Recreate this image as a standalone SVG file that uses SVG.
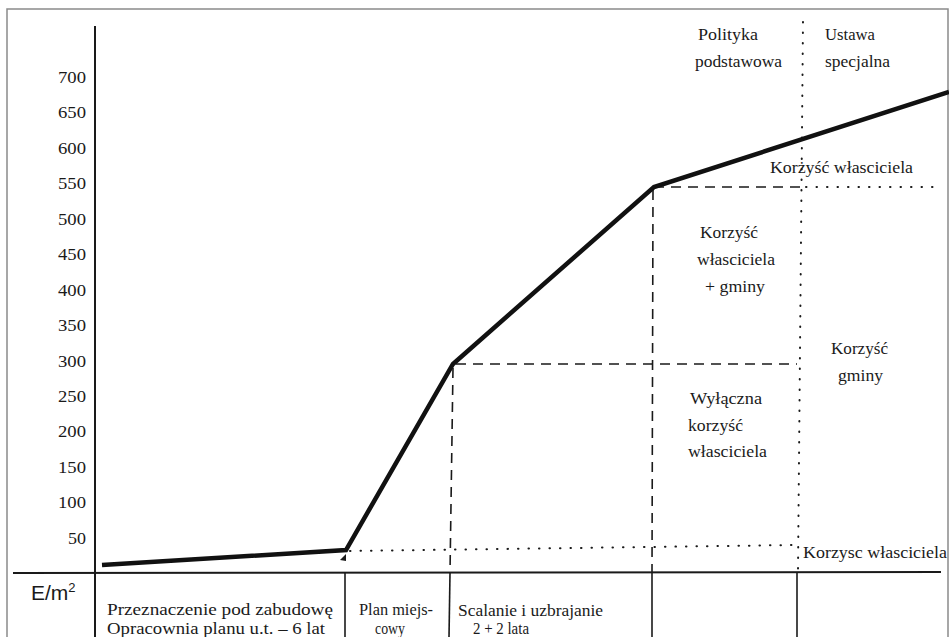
<svg xmlns="http://www.w3.org/2000/svg" width="949" height="637" viewBox="0 0 949 637">
<style>
.t{font-family:"Liberation Serif",serif;font-size:16px;fill:#1a1a1a}
.ax{stroke:#1a1a1a;stroke-width:2;fill:none}
.sol{stroke:#1a1a1a;stroke-width:1.6;fill:none}
.dash{stroke:#1a1a1a;stroke-width:1.6;fill:none;stroke-dasharray:10 7}
.dot{stroke:#1a1a1a;stroke-width:2;fill:none;stroke-dasharray:0.5 10;stroke-linecap:round}
.curve{stroke:#111;stroke-width:4.5;fill:none;stroke-linejoin:miter}
</style>
<rect x="0" y="0" width="949" height="637" fill="#fff"/>
<rect x="7" y="9" width="941" height="640" fill="none" stroke="#8a8a8a" stroke-width="1.5"/>

<g id="axes">
<line class="ax" x1="95" y1="26" x2="95" y2="637"/>
<line class="ax" x1="13" y1="573" x2="941" y2="572"/>
</g>

<g id="y-labels" class="t" font-size="17" text-anchor="end">
<text x="86" y="83" textLength="28" lengthAdjust="spacingAndGlyphs">700</text>
<text x="86" y="118" textLength="28" lengthAdjust="spacingAndGlyphs">650</text>
<text x="86" y="154" textLength="28" lengthAdjust="spacingAndGlyphs">600</text>
<text x="86" y="189" textLength="28" lengthAdjust="spacingAndGlyphs">550</text>
<text x="86" y="225" textLength="28" lengthAdjust="spacingAndGlyphs">500</text>
<text x="86" y="260" textLength="28" lengthAdjust="spacingAndGlyphs">450</text>
<text x="86" y="296" textLength="28" lengthAdjust="spacingAndGlyphs">400</text>
<text x="86" y="331" textLength="28" lengthAdjust="spacingAndGlyphs">350</text>
<text x="86" y="367" textLength="28" lengthAdjust="spacingAndGlyphs">300</text>
<text x="86" y="402" textLength="28" lengthAdjust="spacingAndGlyphs">250</text>
<text x="86" y="437" textLength="28" lengthAdjust="spacingAndGlyphs">200</text>
<text x="86" y="473" textLength="28" lengthAdjust="spacingAndGlyphs">150</text>
<text x="86" y="508" textLength="28" lengthAdjust="spacingAndGlyphs">100</text>
<text x="86" y="544" textLength="18" lengthAdjust="spacingAndGlyphs">50</text>
</g>

<g id="unit-label">
<text x="31" y="600" font-family="Liberation Sans, sans-serif" font-size="21" fill="#1a1a1a">E/m<tspan dy="-8" font-size="13">2</tspan></text>
</g>

<g id="connectors">
<line class="dot" x1="803" y1="22" x2="798" y2="570"/>
<line class="dash" x1="654" y1="187" x2="800" y2="187"/>
<line class="dot" x1="806" y1="187" x2="935" y2="187"/>
<line class="dash" x1="653" y1="190" x2="652" y2="573"/>
<line class="dash" x1="456" y1="364" x2="797" y2="364"/>
<line class="dash" x1="453" y1="368" x2="450" y2="573"/>
<line class="dot" x1="350" y1="551" x2="796" y2="545"/>
<line class="sol" x1="345" y1="573" x2="345" y2="637"/>
<line class="sol" x1="450" y1="573" x2="449" y2="637"/>
<line class="sol" x1="652" y1="573" x2="652" y2="637"/>
<line class="sol" x1="797" y1="573" x2="797" y2="637"/>
<polygon points="340,560 346,554 346,561" fill="#1a1a1a"/>
</g>

<g id="value-curve">
<polyline class="curve" points="102,565 346,550 453,364 654,187 949,92"/>
</g>

<g id="top-labels" class="t">
<text x="698" y="40" textLength="60" lengthAdjust="spacingAndGlyphs">Polityka</text>
<text x="695" y="67" textLength="87" lengthAdjust="spacingAndGlyphs">podstawowa</text>
<text x="825" y="40" textLength="50" lengthAdjust="spacingAndGlyphs">Ustawa</text>
<text x="825" y="67" textLength="65" lengthAdjust="spacingAndGlyphs">specjalna</text>
</g>

<g id="region-labels" class="t">
<text x="770" y="173" textLength="143" lengthAdjust="spacingAndGlyphs">Korżyść własciciela</text>
<text x="700" y="238" textLength="58" lengthAdjust="spacingAndGlyphs">Korzyść</text>
<text x="697" y="265" textLength="78" lengthAdjust="spacingAndGlyphs">własciciela</text>
<text x="705" y="292" textLength="60" lengthAdjust="spacingAndGlyphs">+ gminy</text>
<text x="831" y="354" textLength="57" lengthAdjust="spacingAndGlyphs">Korzyść</text>
<text x="838" y="381" textLength="45" lengthAdjust="spacingAndGlyphs">gminy</text>
<text x="690" y="404" textLength="72" lengthAdjust="spacingAndGlyphs">Wyłączna</text>
<text x="688" y="431" textLength="55" lengthAdjust="spacingAndGlyphs">korzyść</text>
<text x="688" y="457" textLength="79" lengthAdjust="spacingAndGlyphs">własciciela</text>
<text x="803" y="558" textLength="144" lengthAdjust="spacingAndGlyphs">Korzysc własciciela</text>
</g>

<g id="phase-labels" class="t">
<text x="107" y="615" textLength="226" lengthAdjust="spacingAndGlyphs">Przeznaczenie  pod zabudowę</text>
<text x="107" y="634" textLength="218" lengthAdjust="spacingAndGlyphs">Opracownia  planu u.t. – 6 lat</text>
<text x="359" y="615" textLength="74" lengthAdjust="spacingAndGlyphs">Plan miejs-</text>
<text x="375" y="634" textLength="30" lengthAdjust="spacingAndGlyphs">cowy</text>
<text x="458" y="616" textLength="145" lengthAdjust="spacingAndGlyphs">Scalanie i uzbrajanie</text>
<text x="473" y="634" textLength="56" lengthAdjust="spacingAndGlyphs">2 + 2  lata</text>
</g>
</svg>
